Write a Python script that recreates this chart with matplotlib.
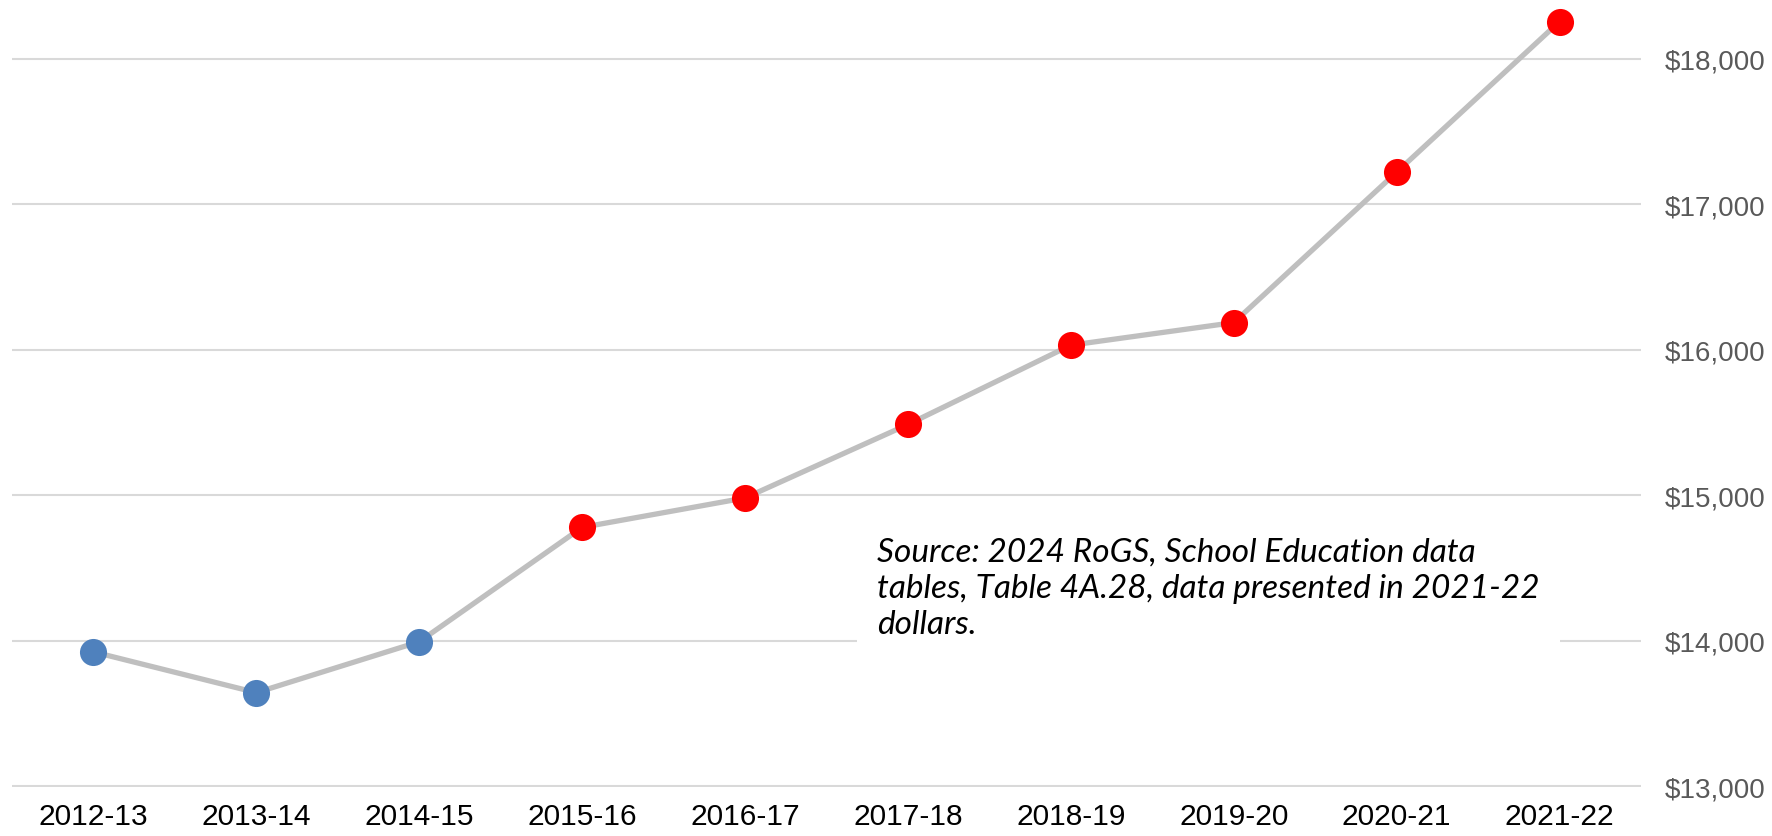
import matplotlib.pyplot as plt
from matplotlib.ticker import FuncFormatter

years = ['2012-13', '2013-14', '2014-15', '2015-16', '2016-17',
         '2017-18', '2018-19', '2019-20', '2020-21', '2021-22']
spend = [13925, 13645, 13995, 14781, 14983, 15488, 16033, 16188, 17222, 18257]
# first years drawn in blue, the rest in red
n_early = 3
source = ('Source: 2024 RoGS, School Education data\n'
          'tables, Table 4A.28, data presented in 2021-22\n'
          'dollars.')

fig = plt.figure(figsize=(17.72, 8.37), dpi=100)
ax = fig.add_axes([12 / 1772, 49.5 / 837, 1629 / 1772, 787.5 / 837])

x = list(range(len(years)))
ax.plot(x, spend, color='#BFBFBF', lw=3.8, zorder=2, clip_on=False)
ax.scatter(x[:n_early], spend[:n_early], s=19.5 ** 2, color='#4F81BD',
           zorder=3, clip_on=False, linewidths=0)
ax.scatter(x[n_early:], spend[n_early:], s=19.5 ** 2, color='#FF0000',
           zorder=3, clip_on=False, linewidths=0)

ax.set_xlim(-0.5, 9.5)
ax.set_ylim(13000, 18412)
ax.set_yticks([13000, 14000, 15000, 16000, 17000, 18000])
ax.yaxis.set_major_formatter(FuncFormatter(lambda v, p: '${:,.0f}'.format(v)))
ax.yaxis.tick_right()
ax.set_xticks(x)
ax.set_xticklabels(years)
ax.grid(axis='y', color='#D9D9D9', lw=1.5, zorder=0)
ax.set_axisbelow(True)
for s in ax.spines.values():
    s.set_visible(False)
ax.tick_params(axis='y', length=0, pad=17, labelsize=20, labelcolor='#595959')
ax.tick_params(axis='x', length=0, pad=11, labelsize=21.5, labelcolor='black')
for lab in ax.get_xticklabels() + ax.get_yticklabels():
    lab.set_fontfamily('Liberation Sans')

fig.text(877 / 1772, 1 - 538 / 837, source, ha='left', va='top',
         fontsize=24, fontstyle='italic', family='Lato', linespacing=1.25,
         bbox=dict(facecolor='white', edgecolor='none',
                   boxstyle='square,pad=0.6'))

fig.savefig('out.png', dpi=100)
